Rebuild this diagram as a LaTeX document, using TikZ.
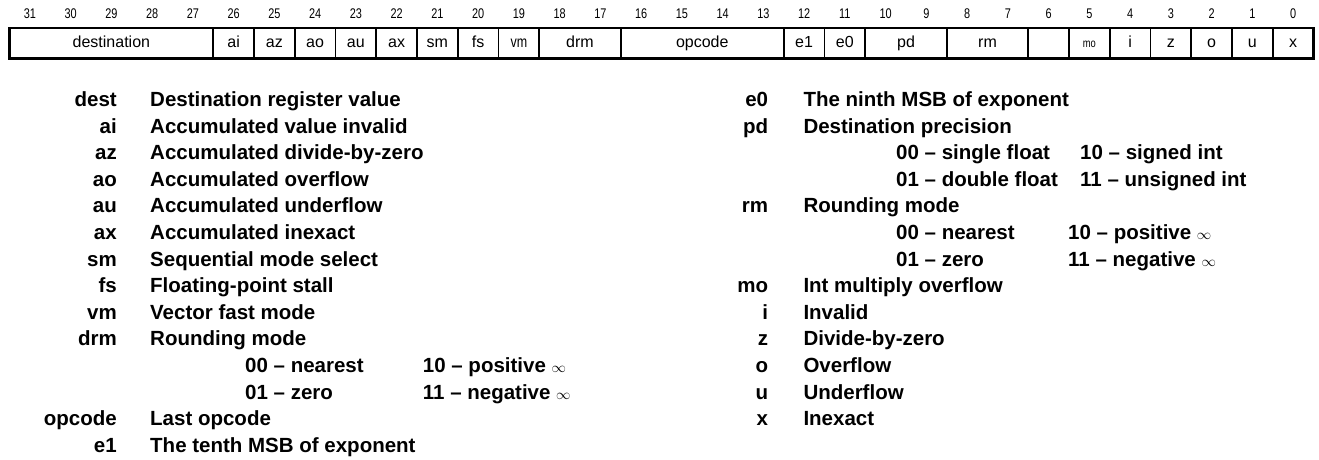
\documentclass[tikz,border=0pt]{standalone}
\usepackage{fontspec}
\setmainfont{Liberation Sans}
\newfontfamily\condfont[FakeStretch=0.78]{Liberation Sans}
\newcommand\legfont{\fontsize{20.5}{22}\bfseries\selectfont}
\newcommand\inftysym{{\fontsize{15}{15}\selectfont$\infty$}}
\begin{document}
\begin{tikzpicture}[x=1pt,y=-1pt,
  field/.style={draw, line width=1.8pt, rectangle, outer sep=0pt, inner sep=0pt,
    minimum height=30.5pt, text height=11.5pt, text depth=3.5pt,
    font=\fontsize{16}{18}\selectfont},
  bitnum/.style={anchor=base, inner sep=0pt, font=\fontsize{14}{16}\condfont},
  abbr/.style={anchor=base east, inner sep=0pt, font=\legfont},
  desc/.style={anchor=base west, inner sep=0pt, font=\legfont}]
\useasboundingbox (0,0) rectangle (1319,459);
\def\W{40.75}
\def\L{9.5}
% bit numbers
\foreach \b in {0,...,31}
  \node[bitnum] (b\b) at ({\L+(31-\b+0.5)*\W},18.3) {\b};
% fields
\foreach \m/\n/\lab/\nm in {31/5/destination/dest,26/1/ai/ai,25/1/az/az,24/1/ao/ao,23/1/au/au,22/1/ax/ax,21/1/sm/sm,20/1/fs/fs,19/1/{\condfont vm}/vm,18/2/drm/drm,16/4/opcode/opcode,12/1/e1/e1,11/1/e0/e0,10/2/pd/pd,8/2/rm/rm,6/1/{}/blank,5/1/{\fontsize{12}{12}\condfont mo}/mo,4/1/i/i,3/1/z/z,2/1/o/o,1/1/u/u,0/1/x/x}
  \node[field, minimum width={\n*\W pt}] (f-\nm) at ({\L+(31-\m+\n/2)*\W},43.25) {\lab};
\draw[line width=2.8pt] (f-dest.north west) rectangle (f-x.south east);
% left legend
\def\la{117}\def\lb{150}\def\lc{245}\def\ld{422.7}
\node[abbr] (l0a) at (\la,106.5) {dest};   \node[desc] (l0b) at (\lb,106.5) {Destination register value};
\node[abbr] (l1a) at (\la,133.1) {ai};     \node[desc] (l1b) at (\lb,133.1) {Accumulated value invalid};
\node[abbr] (l2a) at (\la,159.7) {az};     \node[desc] (l2b) at (\lb,159.7) {Accumulated divide-by-zero};
\node[abbr] (l3a) at (\la,186.3) {ao};     \node[desc] (l3b) at (\lb,186.3) {Accumulated overflow};
\node[abbr] (l4a) at (\la,212.9) {au};     \node[desc] (l4b) at (\lb,212.9) {Accumulated underflow};
\node[abbr] (l5a) at (\la,239.5) {ax};     \node[desc] (l5b) at (\lb,239.5) {Accumulated inexact};
\node[abbr] (l6a) at (\la,266.1) {sm};     \node[desc] (l6b) at (\lb,266.1) {Sequential mode select};
\node[abbr] (l7a) at (\la,292.7) {fs};     \node[desc] (l7b) at (\lb,292.7) {Floating-point stall};
\node[abbr] (l8a) at (\la,319.3) {vm};     \node[desc] (l8b) at (\lb,319.3) {Vector fast mode};
\node[abbr] (l9a) at (\la,345.9) {drm};    \node[desc] (l9b) at (\lb,345.9) {Rounding mode};
\node[desc] (l10a) at (\lc,372.5) {00 – nearest}; \node[desc] (l10b) at (\ld,372.5) {10 – positive \inftysym};
\node[desc] (l11a) at (\lc,399.1) {01 – zero};    \node[desc] (l11b) at (\ld,399.1) {11 – negative \inftysym};
\node[abbr] (l12a) at (\la,425.7) {opcode}; \node[desc] (l12b) at (\lb,425.7) {Last opcode};
\node[abbr] (l13a) at (\la,452.3) {e1};     \node[desc] (l13b) at (\lb,452.3) {The tenth MSB of exponent};
% right legend
\def\ra{768.3}\def\rb{803.3}\def\rc{896}\def\rd{1080}\def\re{1068}
\node[abbr] (r0a) at (\ra,106.5) {e0};     \node[desc] (r0b) at (\rb,106.5) {The ninth MSB of exponent};
\node[abbr] (r1a) at (\ra,133.1) {pd};     \node[desc] (r1b) at (\rb,133.1) {Destination precision};
\node[desc] (r2a) at (\rc,159.7) {00 – single float}; \node[desc] (r2b) at (\rd,159.7) {10 – signed int};
\node[desc] (r3a) at (\rc,186.3) {01 – double float}; \node[desc] (r3b) at (\rd,186.3) {11 – unsigned int};
\node[abbr] (r4a) at (\ra,212.9) {rm};     \node[desc] (r4b) at (\rb,212.9) {Rounding mode};
\node[desc] (r5a) at (\rc,239.5) {00 – nearest}; \node[desc] (r5b) at (\re,239.5) {10 – positive \inftysym};
\node[desc] (r6a) at (\rc,266.1) {01 – zero};    \node[desc] (r6b) at (\re,266.1) {11 – negative \inftysym};
\node[abbr] (r7a) at (\ra,292.7) {mo};     \node[desc] (r7b) at (\rb,292.7) {Int multiply overflow};
\node[abbr] (r8a) at (\ra,319.3) {i};      \node[desc] (r8b) at (\rb,319.3) {Invalid};
\node[abbr] (r9a) at (\ra,345.9) {z};      \node[desc] (r9b) at (\rb,345.9) {Divide-by-zero};
\node[abbr] (r10a) at (\ra,372.5) {o};     \node[desc] (r10b) at (\rb,372.5) {Overflow};
\node[abbr] (r11a) at (\ra,399.1) {u};     \node[desc] (r11b) at (\rb,399.1) {Underflow};
\node[abbr] (r12a) at (\ra,425.7) {x};     \node[desc] (r12b) at (\rb,425.7) {Inexact};
\end{tikzpicture}
\end{document}
